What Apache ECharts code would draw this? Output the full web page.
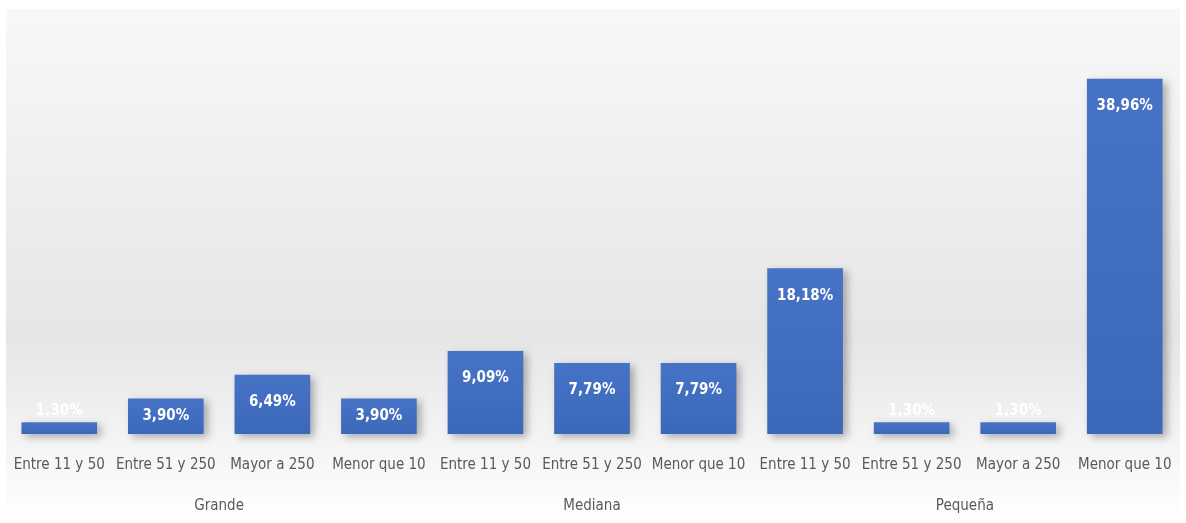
<!DOCTYPE html>
<html><head><meta charset="utf-8">
<script src="https://cdn.jsdelivr.net/npm/echarts@6/dist/echarts.min.js"></script>
<style>html,body{margin:0;padding:0;background:#fff}#c{width:1186px;height:523px}</style>
</head><body><div id="c"></div>
<script>
const categories = ['Entre 11 y 50','Entre 51 y 250','Mayor a 250','Menor que 10',
  'Entre 11 y 50','Entre 51 y 250','Menor que 10',
  'Entre 11 y 50','Entre 51 y 250','Mayor a 250','Menor que 10'];
const values = [1.30, 3.90, 6.49, 3.90, 9.09, 7.79, 7.79, 18.18, 1.30, 1.30, 38.96];
const groupNames = ['Grande', 'Mediana', 'Pequeña'];
const groupSizes = [4, 3, 4];

const FONT = '"Liberation Sans Narrow", "DejaVu Sans Condensed", "Noto Sans", sans-serif';
const fmt = v => v.toFixed(2).replace('.', ',') + '%';

// group centres in category units
const groupCenters = {};
let start = 0;
groupNames.forEach((g, i) => { groupCenters[(start + groupSizes[i] / 2).toFixed(1)] = g; start += groupSizes[i]; });

const data = values.map(v => {
  const item = { value: v };
  if (v < 2) item.label = { position: 'top', distance: 4 };
  else if (v < 5) item.label = { position: 'inside' };
  return item;
});

const chart = echarts.init(document.getElementById('c'), null, { renderer: 'canvas' });
chart.setOption({
  animation: false,
  backgroundColor: '#ffffff',
  graphic: [{
    type: 'rect', left: 6, top: 9, z: -100,
    shape: { width: 1174, height: 514 },
    style: { fill: new echarts.graphic.LinearGradient(0, 0, 0, 1, [
      { offset: 0, color: '#f8f8f8' },
      { offset: 0.64, color: '#e6e6e6' },
      { offset: 1, color: '#ffffff' }
    ]) },
    silent: true
  }],
  grid: { left: 6, right: 8, top: 9, bottom: 89, containLabel: false },
  xAxis: [{
    type: 'category', data: categories, position: 'bottom',
    axisLine: { show: false }, axisTick: { show: false },
    axisLabel: { interval: 0, color: '#595959', fontFamily: FONT, fontSize: 15, margin: 24 }
  }, {
    type: 'value', min: 0, max: categories.length, interval: 0.5, position: 'bottom',
    axisLine: { show: false }, axisTick: { show: false }, splitLine: { show: false },
    axisLabel: {
      color: '#595959', fontFamily: FONT, fontSize: 15, margin: 65,
      showMinLabel: true, showMaxLabel: true,
      formatter: v => groupCenters[v.toFixed(1)] || ''
    }
  }],
  yAxis: { type: 'value', min: 0, max: 46.6, show: false, splitLine: { show: false } },
  series: [{
    type: 'bar', xAxisIndex: 0, data: data, barWidth: '71%',
    itemStyle: {
      color: new echarts.graphic.LinearGradient(0, 0, 0, 1, [
        { offset: 0, color: '#4673c5' }, { offset: 1, color: '#3c68ba' }
      ]),
      shadowBlur: 8, shadowOffsetX: 4, shadowOffsetY: 3, shadowColor: 'rgba(0,0,0,0.3)'
    },
    label: {
      show: true, position: 'insideTop', distance: 20, color: '#ffffff',
      fontFamily: FONT, fontSize: 15, fontWeight: 'bold',
      formatter: p => fmt(p.value)
    }
  }]
});
</script></body></html>
